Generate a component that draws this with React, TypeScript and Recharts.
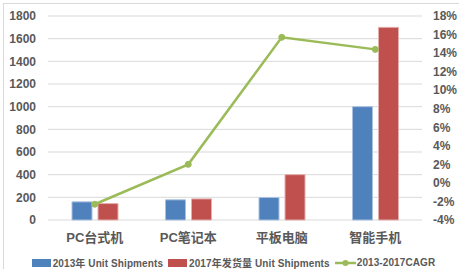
import React from 'react';
import { ComposedChart, Bar, Line, XAxis, YAxis, CartesianGrid } from 'recharts';

const categories = ['PC台式机', 'PC笔记本', '平板电脑', '智能手机'];
const shipments2013 = [160, 178, 198, 1000];
const shipments2017 = [145, 186, 400, 1700];
const cagr = [-2.3, 2.0, 15.7, 14.4];

const leftTicks = [0, 200, 400, 600, 800, 1000, 1200, 1400, 1600, 1800];
const rightTicks = [-4, -2, 0, 2, 4, 6, 8, 10, 12, 14, 16, 18];

const seriesNames = ['2013年 Unit Shipments', '2017年发货量 Unit Shipments', '2013-2017CAGR'];
const COLORS = ['#4F81BD', '#C0504D', '#9BBB59'];

const data = categories.map((name, i) => ({
  name,
  s2013: shipments2013[i],
  s2017: shipments2017[i],
  cagr: cagr[i],
}));

const FONT = '"Liberation Sans", "Noto Sans CJK SC", sans-serif';
const tickStyle = { fontSize: 12, fontWeight: 700, fill: '#595959', fontFamily: FONT };

const ChartLegend: React.FC = () => (
  <div
    style={{
      position: 'absolute',
      left: 0,
      top: 255,
      width: 467,
      display: 'flex',
      justifyContent: 'center',
      alignItems: 'center',
      fontFamily: FONT,
      fontSize: 10,
      fontWeight: 700,
      color: '#595959',
      whiteSpace: 'nowrap',
      letterSpacing: 0.1,
    }}
  >
    {seriesNames.map((s, i) => (
      <div key={s} style={{ display: 'flex', alignItems: 'center', marginRight: i < 2 ? 5 : 0 }}>
        {i < 2 ? (
          <span style={{ display: 'inline-block', width: 19, height: 8, background: COLORS[i], marginRight: 2 }} />
        ) : (
          <svg width={21} height={8} style={{ marginRight: 1 }}>
            <line x1={0} y1={4} x2={21} y2={4} stroke={COLORS[2]} strokeWidth={2.5} />
            <circle cx={10.5} cy={4} r={3} fill={COLORS[2]} />
          </svg>
        )}
        <span>{s}</span>
      </div>
    ))}
  </div>
);

const App: React.FC = () => {
  return (
    <div style={{ position: 'absolute', left: 0, top: 0, width: 467, height: 269, overflow: 'hidden', background: '#fff' }}>
      <div
        style={{
          position: 'absolute',
          left: 3,
          top: 3,
          width: 455,
          height: 280,
          borderLeft: '1px solid #D9D9D9',
          borderTop: '1px solid #D9D9D9',
        }}
      />
      <div style={{ position: 'absolute', left: 0, top: 0 }}>
        <ComposedChart
          width={467}
          height={269}
          data={data}
          margin={{ top: 16, right: 0, bottom: 19, left: 0 }}
          barSize={20}
          barGap={6}
        >
          <CartesianGrid vertical={false} stroke="#D9D9D9" yAxisId="left" />
          <XAxis
            dataKey="name"
            axisLine={false}
            tickLine={false}
            height={30}
            tickMargin={7}
            interval={0}
            tick={{ fontSize: 13, fontWeight: 700, fill: '#595959', fontFamily: FONT }}
          />
          <YAxis
            yAxisId="left"
            width={48}
            domain={[0, 1800]}
            ticks={leftTicks}
            interval={0}
            axisLine={false}
            tickLine={false}
            tickMargin={6}
            tick={tickStyle}
          />
          <YAxis
            yAxisId="right"
            orientation="right"
            width={45}
            domain={[-4, 18]}
            ticks={rightTicks}
            interval={0}
            axisLine={false}
            tickLine={false}
            tickMargin={5}
            tickFormatter={(v: number) => `${v}%`}
            tick={tickStyle}
          />
          <Bar yAxisId="left" dataKey="s2013" fill={COLORS[0]} stroke="#A9C0DF" strokeWidth={1} isAnimationActive={false} />
          <Bar yAxisId="left" dataKey="s2017" fill={COLORS[1]} stroke="#E3AFAE" strokeWidth={1} isAnimationActive={false} />
          <Line
            yAxisId="right"
            dataKey="cagr"
            stroke={COLORS[2]}
            strokeWidth={2.5}
            dot={{ r: 3, fill: COLORS[2], stroke: COLORS[2], strokeWidth: 1 }}
            isAnimationActive={false}
          />
        </ComposedChart>
      </div>
      <ChartLegend />
    </div>
  );
};

export default App;
